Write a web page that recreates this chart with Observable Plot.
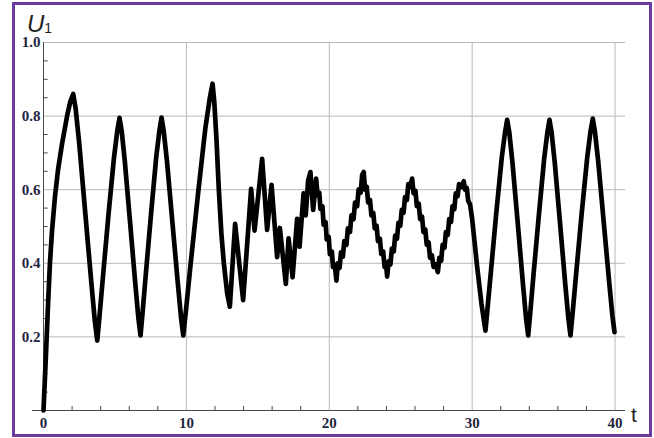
<!DOCTYPE html>
<html>
<head>
<meta charset="utf-8">
<script src="https://cdn.jsdelivr.net/npm/d3@7"></script>
<script src="https://cdn.jsdelivr.net/npm/@observablehq/plot@0.6"></script>
<style>
html,body{margin:0;padding:0;background:#fff;}
#wrap{position:relative;width:654px;height:438px;overflow:hidden;background:#fff;}
#wrap svg{position:absolute;left:0;top:0;}
#border{position:absolute;left:12px;top:2px;width:640px;height:435px;border:3px solid #6a3c9c;box-sizing:border-box;pointer-events:none;}
</style>
</head>
<body>
<div id="wrap"><div id="border"></div></div>
<script>
// time values (t) and series values (U1)
const tValues = [
  0, 0.17, 0.33, 0.45, 0.60, 0.80, 1.02, 1.30, 1.65, 1.88, 2.08,
  2.25, 2.50, 2.92, 3.34, 3.59, 3.76,
  3.92, 4.15, 4.54, 4.93, 5.16, 5.32,
  5.47, 5.69, 6.06, 6.42, 6.64, 6.79,
  6.94, 7.16, 7.53, 7.89, 8.11, 8.26,
  8.41, 8.64, 9.02, 9.40, 9.63, 9.78,
  9.99, 10.29, 10.81, 11.32, 11.63, 11.83,
  11.95, 12.10, 12.27, 12.45, 12.62, 12.85, 13.04,
  13.41, 13.97, 14.53, 14.77, 15.30, 15.65, 15.96, 16.35, 16.54, 16.96, 17.15, 17.43, 17.75, 17.92, 18.20, 18.35, 18.52, 18.68, 18.87, 19.08,
  19.18, 19.30, 19.38, 19.52, 19.60, 19.74, 19.82, 19.96, 20.04, 20.18, 20.26, 20.38, 20.50,
  20.60, 20.72, 20.82, 20.95, 21.05, 21.20, 21.30, 21.45, 21.55, 21.70, 21.80, 21.95, 22.05, 22.20, 22.30, 22.41,
  22.50, 22.62, 22.72, 22.85, 22.95, 23.08, 23.18, 23.31, 23.41, 23.54, 23.64, 23.77, 23.87, 23.97, 24.05,
  24.15, 24.28, 24.38, 24.51, 24.61, 24.74, 24.84, 24.97, 25.07, 25.20, 25.30, 25.43, 25.53, 25.66, 25.80,
  25.90, 26.03, 26.13, 26.26, 26.36, 26.49, 26.59, 26.72, 26.82, 26.95, 27.05, 27.18, 27.30, 27.45, 27.60,
  27.70, 27.83, 27.93, 28.06, 28.16, 28.29, 28.39, 28.52, 28.62, 28.75, 28.85, 28.98, 29.08, 29.25, 29.41,
  29.50, 29.62, 29.72, 29.85, 30.00, 30.35, 30.65, 30.93,
  31.08, 31.31, 31.69, 32.07, 32.30, 32.45,
  32.60, 32.82, 33.19, 33.55, 33.77, 33.92,
  34.07, 34.29, 34.67, 35.04, 35.26, 35.41,
  35.56, 35.78, 36.15, 36.51, 36.73, 36.88,
  37.04, 37.27, 37.66, 38.05, 38.28, 38.44,
  38.59, 38.82, 39.20, 39.58, 39.81, 39.96
];
const uValues = [
  0, 0.15, 0.30, 0.40, 0.49, 0.58, 0.655, 0.725, 0.80, 0.84, 0.86,
  0.82, 0.726, 0.538, 0.351, 0.244, 0.19,
  0.257, 0.359, 0.529, 0.686, 0.759, 0.795,
  0.760, 0.677, 0.511, 0.346, 0.251, 0.204,
  0.269, 0.370, 0.536, 0.689, 0.760, 0.796,
  0.760, 0.678, 0.512, 0.346, 0.251, 0.204,
  0.279, 0.396, 0.587, 0.765, 0.847, 0.888,
  0.84, 0.74, 0.60, 0.48, 0.40, 0.32, 0.282,
  0.507, 0.300, 0.602, 0.489, 0.684, 0.491, 0.613, 0.417, 0.496, 0.344, 0.468, 0.362, 0.521, 0.445, 0.590, 0.530, 0.625, 0.648, 0.545, 0.630,
  0.585, 0.592, 0.548, 0.555, 0.505, 0.512, 0.465, 0.472, 0.425, 0.432, 0.390, 0.397, 0.353,
  0.400, 0.388, 0.430, 0.418, 0.460, 0.450, 0.495, 0.485, 0.530, 0.520, 0.565, 0.555, 0.600, 0.592, 0.640, 0.648,
  0.600, 0.608, 0.565, 0.572, 0.530, 0.537, 0.495, 0.502, 0.460, 0.467, 0.425, 0.432, 0.390, 0.397, 0.364,
  0.405, 0.397, 0.440, 0.432, 0.475, 0.467, 0.510, 0.502, 0.545, 0.537, 0.580, 0.572, 0.615, 0.607, 0.630,
  0.590, 0.597, 0.555, 0.562, 0.520, 0.527, 0.485, 0.492, 0.450, 0.457, 0.415, 0.422, 0.390, 0.397, 0.376,
  0.415, 0.407, 0.450, 0.442, 0.485, 0.477, 0.520, 0.512, 0.555, 0.547, 0.590, 0.582, 0.615, 0.607, 0.623,
  0.600, 0.605, 0.570, 0.560, 0.520, 0.390, 0.290, 0.217,
  0.280, 0.377, 0.538, 0.687, 0.756, 0.790,
  0.755, 0.673, 0.509, 0.345, 0.251, 0.204,
  0.268, 0.368, 0.532, 0.685, 0.755, 0.790,
  0.755, 0.673, 0.509, 0.345, 0.251, 0.204,
  0.269, 0.369, 0.534, 0.687, 0.758, 0.793,
  0.758, 0.677, 0.515, 0.352, 0.259, 0.213
];
const xMajor = [0, 10, 20, 30, 40];
const xLabels = ["0", "10", "20", "30", "40"];
const xMinor = [2, 4, 6, 8, 12, 14, 16, 18, 22, 24, 26, 28, 32, 34, 36, 38];
const yMajor = [0.2, 0.4, 0.6, 0.8, 1.0];
const yLabels = ["0.2", "0.4", "0.6", "0.8", "1.0"];
const yMinor = [0.05, 0.1, 0.15, 0.25, 0.3, 0.35, 0.45, 0.5, 0.55, 0.65, 0.7, 0.75, 0.85, 0.9, 0.95];

const data = tValues.map((t, i) => ({t, u: uValues[i]}));
const X0 = -0.77, X1 = 40.73;
const axisColor = "#4a4a4a", gridColor = "#b8b8b8", labelColor = "#1f2540";
const labelFont = "'Liberation Serif', 'Times New Roman', serif";

const chart = Plot.plot({
  width: 654, height: 438,
  marginLeft: 32, marginRight: 29, marginTop: 42, marginBottom: 28,
  x: {domain: [X0, X1], axis: null},
  y: {domain: [0, 1], axis: null},
  style: {background: "transparent"},
  marks: [
    Plot.ruleY(yMajor, {x1: 0, x2: X1, stroke: gridColor, strokeWidth: 1}),
    Plot.ruleX(xMajor.slice(1), {y1: 0, y2: 1, stroke: gridColor, strokeWidth: 1}),
    Plot.ruleX(xMinor, {y1: 0, y2: 0.011, stroke: axisColor}),
    Plot.ruleY(yMinor, {x1: 0, x2: 0.33, stroke: axisColor}),
    Plot.ruleY([0], {x1: X0, x2: X1, stroke: axisColor}),
    Plot.ruleX([0], {y1: 0, y2: 1, stroke: axisColor}),
    Plot.line(data, {x: "t", y: "u", stroke: "#000", strokeWidth: 4.7, strokeLinejoin: "round", strokeLinecap: "round"}),
    Plot.text(xMajor, {x: d => d, y: 0, text: (d, i) => xLabels[i], dy: 13, fill: labelColor, fontFamily: labelFont, fontWeight: "bold", fontSize: 15}),
    Plot.text(yMajor, {x: 0, y: d => d, text: (d, i) => yLabels[i], dx: -3, textAnchor: "end", fill: labelColor, fontFamily: labelFont, fontWeight: "bold", fontSize: 15})
  ]
});

const svg = d3.select(chart);
const u = svg.append("text").attr("x", 27).attr("y", 31.5).attr("text-anchor", "start")
  .attr("font-family", "'Liberation Sans', Arial, sans-serif").attr("fill", "#222");
u.append("tspan").attr("font-size", 24).attr("font-style", "italic").text("U");
u.append("tspan").attr("font-size", 14).attr("dy", 1.5).text("1");
svg.append("text").attr("x", 631).attr("y", 421.5).attr("text-anchor", "start")
  .attr("font-family", "'Liberation Sans', Arial, sans-serif").attr("font-size", 21).attr("fill", "#222").text("t");

document.getElementById("wrap").insertBefore(chart, document.getElementById("border"));
</script>
</body>
</html>
